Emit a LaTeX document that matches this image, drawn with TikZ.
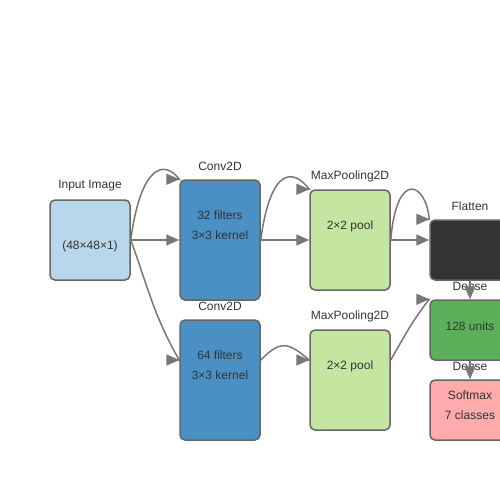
\documentclass[tikz,border=0pt]{standalone}
\usepackage{fontspec}
\setmainfont{Liberation Sans}
\usetikzlibrary{arrows.meta}
\definecolor{inputc}{HTML}{B9D7EA}
\definecolor{convc}{HTML}{4A90C4}
\definecolor{poolc}{HTML}{C4E6A1}
\definecolor{flatc}{HTML}{333333}
\definecolor{densec}{HTML}{5CB05A}
\definecolor{softc}{HTML}{FFABAB}
\definecolor{edgec}{HTML}{777777}
\definecolor{textc}{HTML}{333333}
\tikzset{
  layer/.style={draw=black!60, line width=1.5pt, rounded corners=5pt,
    minimum width=80pt, inner sep=0pt},
  ttl/.style={text=textc, font=\fontsize{12}{14}\selectfont, inner sep=0pt},
  info/.style={text=textc, font=\fontsize{12}{20}\selectfont, align=center, inner sep=0pt},
  flow/.style={draw=edgec, line width=1.5pt, -{Triangle[length=13pt, width=11pt]}}
}
\begin{document}
\begin{tikzpicture}[x=1pt, y=-1pt]
      \useasboundingbox (0,0) rectangle (500,500);
      % layers
      \node[layer, fill=inputc, minimum height=80pt] (in) at (90,240) {};
      \node[layer, fill=convc, minimum height=120pt] (c1) at (220,240) {};
      \node[layer, fill=convc, minimum height=120pt] (c2) at (220,380) {};
      \node[layer, fill=poolc, minimum height=100pt] (p1) at (350,240) {};
      \node[layer, fill=poolc, minimum height=100pt] (p2) at (350,380) {};
      \node[layer, fill=flatc, minimum height=60pt] (fl) at (470,250) {};
      \node[layer, fill=densec, minimum height=60pt] (de) at (470,330) {};
      \node[layer, fill=softc, minimum height=60pt] (so) at (470,410) {};
      % texts
      \node[info] (in-t) at (90,246) {(48×48×1)};
      \node[info] (c1-t) at (220,225) {32 filters\\3×3 kernel};
      \node[info] (c2-t) at (220,365) {64 filters\\3×3 kernel};
      \node[info] (p1-t) at (350,226) {2×2 pool};
      \node[info] (p2-t) at (350,366) {2×2 pool};
      \node[info] (de-t) at (470,326) {128 units};
      \node[info] (so-t) at (470,405) {Softmax\\7 classes};
      % titles
      \node[ttl] (in-l) at (90,186) {Input Image};
      \node[ttl] (c1-l) at (220,166) {Conv2D};
      \node[ttl] (c2-l) at (220,306) {Conv2D};
      \node[ttl] (p1-l) at (350,176) {MaxPooling2D};
      \node[ttl] (p2-l) at (350,316) {MaxPooling2D};
      \node[ttl] (fl-l) at (470,206) {Flatten};
      \node[ttl] (de-l) at (470,286) {Dense};
      \node[ttl] (so-l) at (470,366) {Dense};
      % connections (the short last piece keeps the heads level)
      \begin{scope}[flow]
        \draw (in.east) to (c1.west);
        \draw (in.east) .. controls +(10,-75) and +(-15,-20) .. (c1.north west) -- +(0.1,0);
        \draw (in.east) to[out=-70, in=120] ([yshift=20pt]c2.west) -- +(0.1,0);
        \draw (c1.east) to (p1.west);
        \draw (c1.east) .. controls +(10,-75) and +(-15,-20) .. (p1.north west) -- +(0.1,0);
        \draw ([yshift=20pt]c2.east) to[out=45, in=140, looseness=1.5] ([yshift=20pt]p2.west) -- +(0.1,0);
        \draw (p1.east) to ([yshift=10pt]fl.west);
        \draw (p1.east) .. controls +(6,-72) and +(-3,-36) .. (fl.north west) -- +(0.1,0);
        \draw ([yshift=20pt]p2.east) to[out=60, in=232] (de.north west) -- +(0.1,0);
        \draw (fl.south) to (de.north);
        \draw (de.south) to (so.north);
      \end{scope}
    \end{tikzpicture}
\end{document}
